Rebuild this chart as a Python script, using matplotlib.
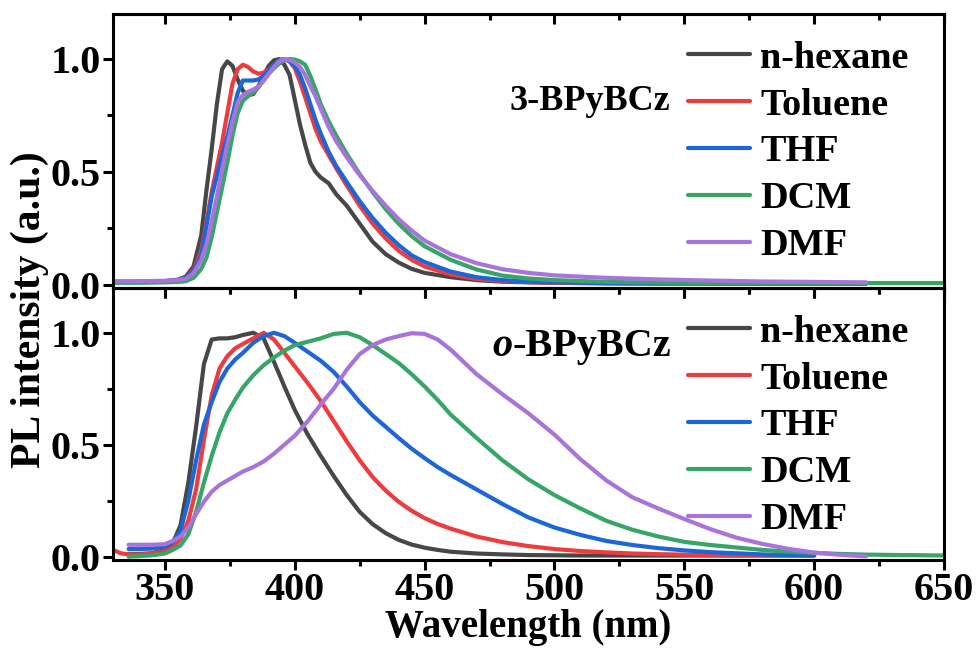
"""PL spectra of 3-BPyBCz and o-BPyBCz in solvents of increasing polarity."""

import matplotlib
matplotlib.use("Agg")
import matplotlib.pyplot as plt
from matplotlib.ticker import MultipleLocator
import numpy as np

nan = np.nan

solvents = ["n-hexane", "Toluene", "THF", "DCM", "DMF"]
colors = ["#474747", "#ee3b3d", "#1c66d8", "#36a565", "#a874db"]

# ---- 3-BPyBCz (top panel) ----
wl_top = [330, 340, 350, 355, 358, 361, 364, 366, 368, 370, 372, 374, 376, 378,
          380, 382, 384, 386, 388, 390, 392, 394, 396, 398, 400, 402, 404, 406,
          408, 410, 413, 416, 420, 425, 430, 435, 440, 445, 450, 460, 470, 480,
          490, 500, 520, 540, 560, 580, 600, 620, 635, 650]
top_hexane = [0.012, 0.012, 0.015, 0.022, 0.035, 0.08, 0.22, 0.42, 0.60, 0.80, 0.955, 0.99, 0.97, 0.91,
              0.86, 0.84, 0.845, 0.88, 0.93, 0.97, 0.995, 1.0, 0.975, 0.93, 0.82, 0.71, 0.62, 0.54,
              0.50, 0.475, 0.45, 0.40, 0.35, 0.27, 0.19, 0.135, 0.098, 0.07, 0.052, 0.033, 0.02, 0.013,
              0.01, 0.008, 0.006, 0.005, 0.005, 0.005, 0.005, 0.005, nan, nan]
top_toluene = [0.012, 0.012, 0.015, 0.02, 0.03, 0.065, 0.15, 0.28, 0.41, 0.52, 0.63, 0.76, 0.89, 0.955,
               0.975, 0.965, 0.945, 0.935, 0.94, 0.955, 0.975, 0.995, 1.0, 0.99, 0.96, 0.90, 0.83, 0.76,
               0.69, 0.635, 0.575, 0.515, 0.44, 0.35, 0.27, 0.205, 0.15, 0.11, 0.08, 0.045, 0.025, 0.016,
               0.011, 0.008, 0.006, 0.005, 0.005, 0.005, 0.005, 0.005, nan, nan]
top_thf = [0.012, 0.012, 0.015, 0.02, 0.03, 0.06, 0.13, 0.26, 0.39, 0.48, 0.57, 0.655, 0.75, 0.85,
           0.905, 0.905, 0.905, 0.91, 0.925, 0.95, 0.975, 0.995, 1.0, 0.99, 0.97, 0.93, 0.87, 0.80,
           0.73, 0.67, 0.59, 0.525, 0.455, 0.37, 0.295, 0.23, 0.175, 0.13, 0.10, 0.058, 0.033, 0.02,
           0.013, 0.01, 0.007, 0.006, 0.005, 0.005, 0.005, 0.005, nan, nan]
top_dcm = [0.008, 0.008, 0.01, 0.012, 0.015, 0.03, 0.07, 0.12, 0.21, 0.32, 0.43, 0.54, 0.66, 0.76,
           0.815, 0.835, 0.852, 0.875, 0.905, 0.935, 0.96, 0.98, 0.995, 1.0, 0.998, 0.99, 0.975, 0.925,
           0.865, 0.80, 0.725, 0.66, 0.58, 0.49, 0.41, 0.335, 0.27, 0.215, 0.17, 0.11, 0.067, 0.04,
           0.027, 0.02, 0.012, 0.009, 0.007, 0.007, 0.007, 0.007, 0.007, 0.007]
top_dmf = [0.015, 0.015, 0.017, 0.02, 0.025, 0.05, 0.11, 0.18, 0.28, 0.39, 0.51, 0.62, 0.72, 0.81,
           0.84, 0.855, 0.865, 0.878, 0.905, 0.935, 0.965, 0.99, 1.0, 0.995, 0.985, 0.965, 0.93, 0.88,
           0.835, 0.78, 0.70, 0.635, 0.565, 0.485, 0.415, 0.35, 0.29, 0.24, 0.195, 0.135, 0.095, 0.068,
           0.052, 0.041, 0.03, 0.023, 0.018, 0.014, 0.012, 0.01, nan, nan]

# ---- o-BPyBCz (bottom panel) ----
wl_bot = [330, 333, 336, 340, 345, 350, 353, 356, 359, 362, 365, 368, 371, 374, 377,
          380, 384, 388, 392, 396, 400, 405, 410, 415, 420, 425, 430, 435, 440, 445,
          450, 455, 460, 470, 480, 490, 500, 510, 520, 530, 540, 550, 560, 570, 580,
          590, 600, 610, 620, 635, 650]
bot_hexane = [nan, nan, 0.012, 0.012, 0.015, 0.03, 0.06, 0.14, 0.33, 0.58, 0.86, 0.97, 0.975, 0.975, 0.98,
              0.99, 1.0, 0.975, 0.87, 0.76, 0.655, 0.545, 0.45, 0.36, 0.275, 0.20, 0.145, 0.105, 0.075, 0.054,
              0.04, 0.03, 0.022, 0.014, 0.01, 0.007, 0.006, 0.005, 0.005, 0.005, 0.005, 0.005, 0.005, 0.005, 0.005,
              0.005, 0.005, nan, nan, nan, nan]
bot_toluene = [0.03, 0.015, 0.01, 0.01, 0.013, 0.025, 0.04, 0.08, 0.16, 0.30, 0.52, 0.72, 0.84, 0.895, 0.93,
               0.95, 0.975, 1.0, 0.97, 0.91, 0.85, 0.775, 0.695, 0.605, 0.515, 0.43, 0.355, 0.295, 0.245, 0.205,
               0.172, 0.146, 0.125, 0.09, 0.065, 0.047, 0.034, 0.025, 0.019, 0.014, 0.011, 0.009, 0.007, 0.006, 0.006,
               0.006, 0.006, nan, nan, nan, nan]
bot_thf = [nan, nan, 0.034, 0.034, 0.036, 0.045, 0.065, 0.115, 0.25, 0.43, 0.59, 0.69, 0.78, 0.84, 0.88,
           0.91, 0.955, 0.985, 1.0, 0.985, 0.955, 0.915, 0.875, 0.825, 0.76, 0.69, 0.63, 0.58, 0.53, 0.482,
           0.44, 0.40, 0.365, 0.30, 0.235, 0.175, 0.13, 0.097, 0.07, 0.052, 0.038, 0.028, 0.02, 0.015, 0.01,
           0.007, 0.005, nan, nan, nan, nan]
bot_dcm = [nan, nan, 0.0, 0.002, 0.006, 0.014, 0.03, 0.05, 0.10, 0.20, 0.33, 0.45, 0.555, 0.64, 0.70,
           0.755, 0.81, 0.855, 0.89, 0.92, 0.945, 0.96, 0.975, 0.995, 1.0, 0.98, 0.945, 0.905, 0.865, 0.815,
           0.76, 0.70, 0.635, 0.53, 0.43, 0.345, 0.275, 0.215, 0.16, 0.12, 0.09, 0.066, 0.052, 0.041, 0.03,
           0.022, 0.017, 0.012, 0.009, 0.007, 0.005]
bot_dmf = [nan, nan, 0.053, 0.053, 0.053, 0.056, 0.07, 0.09, 0.13, 0.19, 0.245, 0.29, 0.32, 0.34, 0.36,
           0.38, 0.40, 0.425, 0.46, 0.50, 0.54, 0.605, 0.68, 0.75, 0.835, 0.905, 0.945, 0.97, 0.985, 0.998,
           0.995, 0.97, 0.925, 0.815, 0.725, 0.64, 0.545, 0.435, 0.34, 0.265, 0.215, 0.168, 0.123, 0.085, 0.057,
           0.035, 0.018, 0.008, 0.001, nan, nan]

panels = [
    ("3-BPyBCz", wl_top, [top_hexane, top_toluene, top_thf, top_dcm, top_dmf]),
    ("o-BPyBCz", wl_bot, [bot_hexane, bot_toluene, bot_thf, bot_dcm, bot_dmf]),
]

plt.rcParams["font.family"] = ["Liberation Serif", "DejaVu Serif"]
plt.rcParams["font.weight"] = "bold"

fig = plt.figure(figsize=(9.76, 6.52), dpi=100)
left, right = 113 / 976, 944 / 976
ax_top = fig.add_axes([left, 1 - 288 / 652, right - left, 274 / 652])
ax_bot = fig.add_axes([left, 1 - 560 / 652, right - left, 272 / 652])

for ax, (name, wl, series) in zip([ax_top, ax_bot], panels):
    for lab, col, ys in zip(solvents, colors, series):
        ax.plot(wl, ys, color=col, lw=3.0, label=lab, solid_capstyle="round")
    ax.set_xlim(330, 650)
    ax.set_ylim(-0.015, 1.2)
    ax.xaxis.set_major_locator(MultipleLocator(50))
    ax.xaxis.set_minor_locator(MultipleLocator(25))
    ax.yaxis.set_major_locator(MultipleLocator(0.5))
    ax.yaxis.set_minor_locator(MultipleLocator(0.25))
    for s in ax.spines.values():
        s.set_linewidth(2.2)
    ax.tick_params(axis="both", which="major", direction="out", length=7, width=2.2,
                   labelsize=29, pad=2)
    ax.tick_params(axis="both", which="minor", direction="out", length=4, width=2.2)
    ax.tick_params(axis="x", top=False)
    ax.tick_params(axis="y", right=False)
    sec = ax.secondary_xaxis("top")
    sec.xaxis.set_major_locator(MultipleLocator(50))
    sec.xaxis.set_minor_locator(MultipleLocator(25))
    sec.tick_params(which="major", direction="in", length=7, width=2.2, labeltop=False)
    sec.tick_params(which="minor", direction="in", length=4, width=2.2)
    sec.spines["top"].set_linewidth(2.2)
    ax.set_yticklabels([f"{v:.1f}" for v in ax.get_yticks()])
    ax.legend(loc="upper left", bbox_to_anchor=(0.66, 1.0), frameon=False,
              fontsize=27.5, handlelength=1.62, handletextpad=0.26, labelspacing=0.31,
              borderaxespad=0.3)
    ax.set_facecolor("none")

ax_top.tick_params(axis="x", labelbottom=False)

ax_top.text(513.5, 0.81, "3-BPyBCz", fontsize=26, fontweight="bold",
            ha="center", va="center")
ax_bot.text(484, 0.94, "o", fontsize=29, fontweight="bold", fontstyle="italic",
            ha="right", va="center")
ax_bot.text(484, 0.94, "-BPyBCz", fontsize=29, fontweight="bold",
            ha="left", va="center")

ax_bot.set_xlabel("Wavelength (nm)", fontsize=28, fontweight="bold", labelpad=0)
fig.text(30 / 976, 1 - 310 / 652, "PL intensity (a.u.)", fontsize=30,
         fontweight="bold", rotation=90, ha="center", va="center")

fig.savefig("out.png", dpi=100)
